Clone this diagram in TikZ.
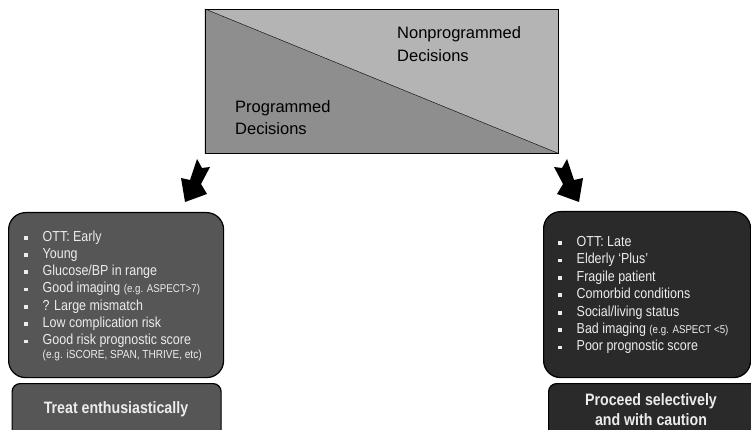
\documentclass[tikz,border=0pt]{standalone}
\usepackage{fontspec}
\setmainfont{Liberation Sans}
\newfontfamily\boxfont{Liberation Sans}[FakeStretch=0.86]
\definecolor{lightdec}{RGB}{180,180,180}
\definecolor{darkdec}{RGB}{142,142,142}
\definecolor{earlyfill}{RGB}{86,86,86}
\definecolor{latefill}{RGB}{42,42,42}
\definecolor{boxtext}{RGB}{236,236,236}
\newcommand{\sqb}{\makebox[19pt][l]{\rule[1.5pt]{3.8pt}{3.8pt}}}
\newcommand{\sm}[1]{{\fontsize{11.3}{14}\selectfont #1}}

\begin{document}
\begin{tikzpicture}[x=1pt,y=-1pt,
    box/.style={draw=black,line width=1.2pt,rounded corners=17pt,anchor=north west,inner sep=0pt},
    capbox/.style={draw=black,line width=1.2pt,rounded corners=8pt,anchor=north west,inner sep=0pt,
                   minimum width=209pt,minimum height=60pt},
    head/.style={align=left,anchor=base west,inner sep=0pt,font=\fontsize{16.5}{22.5}\selectfont},
    item/.style={anchor=base west,inner sep=0pt,text=boxtext,font=\boxfont\fontsize{14.5}{16}\selectfont},
    captext/.style={align=center,anchor=base,inner sep=0pt,text=boxtext,font=\boxfont\bfseries\fontsize{16.5}{20}\selectfont}]
    \useasboundingbox (0,0) rectangle (751,430);
    \clip (0,0) rectangle (751,430);

    % decision square
    \node[draw=none,fill=lightdec,minimum width=353pt,minimum height=144pt,anchor=north west,inner sep=0pt] (dec) at (205,9) {};
    \draw[fill=darkdec] (dec.north west) -- (dec.south east) -- (dec.south west) -- cycle;
    \draw (dec.north west) rectangle (dec.south east);
    \node[head] (nonprog) at (397,61.5) {Nonprogrammed\\Decisions};
    \node[head] (prog) at (235,135) {Programmed\\Decisions};

    % big arrows
    \fill (197,159) -- (202,168) -- (210,167) -- (201,184) -- (207,194) -- (185,202)
          -- (181,178) -- (190,180) -- cycle;
    \fill (567,159) -- (562,168) -- (554,167) -- (563,184) -- (557,194) -- (579,202)
          -- (583,178) -- (574,180) -- cycle;

    % left side
    \node[box,fill=earlyfill,minimum width=215pt,minimum height=165pt] (early) at (8,212) {};
    \foreach \txt [count=\i] in {OTT: Early, Young, Glucose/BP in range,
        Good imaging \sm{(e.g. ASPECT>7)}, ? Large mismatch, Low complication risk,
        Good risk prognostic score}
        \node[item] (e\i) at (23.5,{241+17.3*(\i-1)}) {\sqb\txt};
    \node[item,font=\boxfont\fontsize{11.7}{14}\selectfont] (e8) at (42.5,358.3) {(e.g. iSCORE, SPAN, THRIVE, etc)};
    \node[capbox,fill=earlyfill] (treat) at (11.5,383) {};
    \node[captext] (treattxt) at (116,413) {Treat enthusiastically};

    % right side
    \node[box,fill=latefill,minimum width=207pt,minimum height=166pt] (late) at (543,211) {};
    \foreach \txt [count=\i] in {OTT: Late, Elderly ‘Plus’, Fragile patient,
        Comorbid conditions, Social/living status, Bad imaging \sm{(e.g. ASPECT <5)},
        Poor prognostic score}
        \node[item] (l\i) at (557.5,{246.5+17.4*(\i-1)}) {\sqb\txt};
    \node[capbox,fill=latefill] (proceed) at (548,383) {};
    \node[captext] (proceedtxt) at (651,425) {Proceed selectively\\and with caution};
\end{tikzpicture}
\end{document}
